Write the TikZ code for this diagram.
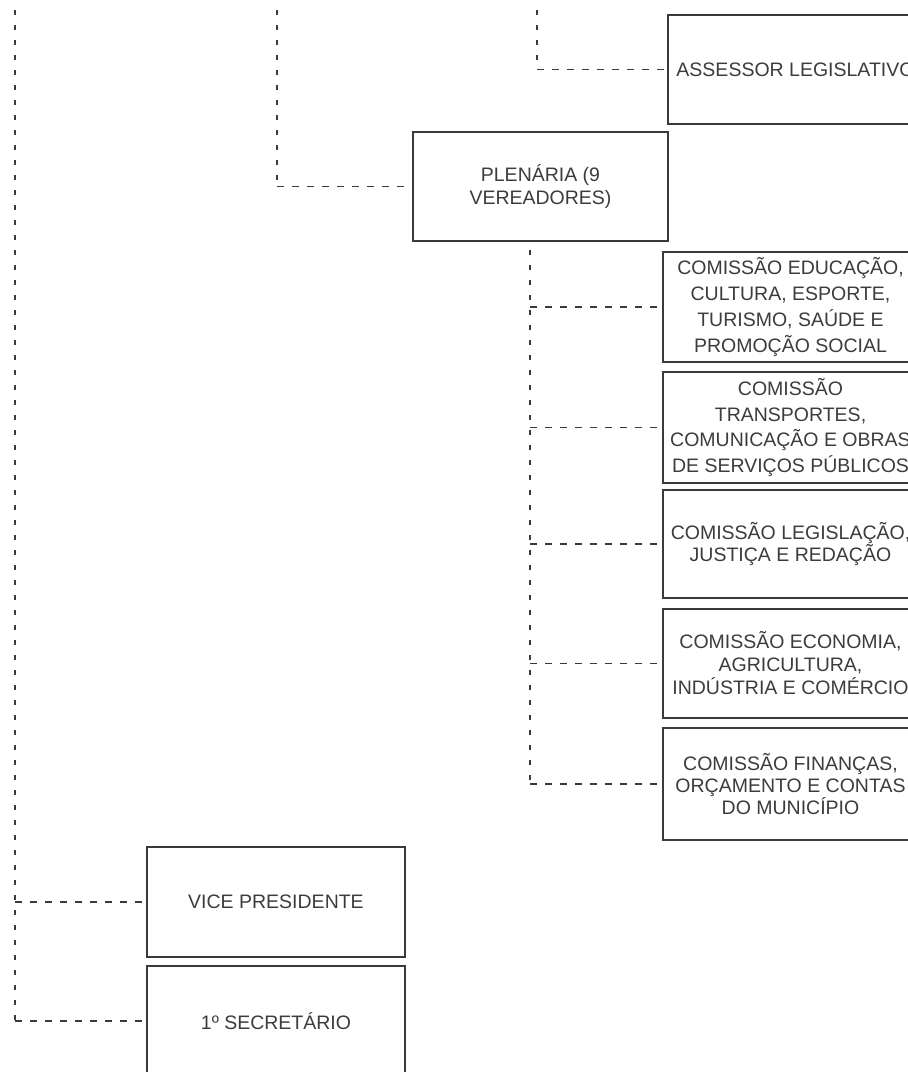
\documentclass[tikz,border=0pt]{standalone}
\usepackage{fontspec}
\setmainfont{Liberation Sans}
\definecolor{linec}{HTML}{3A3A3A}
\definecolor{txtc}{HTML}{3C3C3C}
\tikzset{
  orgbox/.style={draw=linec, line width=1.8pt, inner sep=0pt, align=center, text=txtc,
    font=\fontsize{19.5}{23}\selectfont},
  vdash/.style={draw=linec, line width=1.8pt, dash pattern=on 5pt off 10pt},
  hdash/.style={draw=linec, line width=1.8pt, dash pattern=on 7pt off 8pt},
}
\begin{document}
\begin{tikzpicture}[x=1pt,y=-1pt]
\useasboundingbox (0,0) rectangle (908,1072);
\clip (0,0) rectangle (908,1072);
\fill[white] (0,0) rectangle (908,1072);

% boxes
\node[orgbox, minimum width=255pt, minimum height=109pt] (assessor) at (795.5,69.5) {ASSESSOR LEGISLATIVO};
\node[orgbox, minimum width=255pt, minimum height=109pt] (plenaria) at (540.5,186.5) {PLEN\'ARIA (9\\VEREADORES)};
\node[orgbox, minimum width=255pt, minimum height=110pt, font=\fontsize{19.5}{26}\selectfont] (c1) at (790.5,307) {COMISS\~AO EDUCA\c{C}\~AO,\\CULTURA, ESPORTE,\\TURISMO, SA\'UDE E\\PROMO\c{C}\~AO SOCIAL};
\node[orgbox, minimum width=255pt, minimum height=111pt, font=\fontsize{19.5}{25.5}\selectfont] (c2) at (790.5,427.5) {COMISS\~AO\\TRANSPORTES,\\COMUNICA\c{C}\~AO E OBRAS\\DE SERVI\c{C}OS P\'UBLICOS};
\node[orgbox, minimum width=255pt, minimum height=108pt, font=\fontsize{19.5}{21.5}\selectfont] (c3) at (790.5,544) {COMISS\~AO LEGISLA\c{C}\~AO,\\JUSTI\c{C}A E REDA\c{C}\~AO};
\node[orgbox, minimum width=255pt, minimum height=109pt] (c4) at (790.5,663.5) {COMISS\~AO ECONOMIA,\\AGRICULTURA,\\IND\'USTRIA E COM\'ERCIO};
\node[orgbox, minimum width=255pt, minimum height=112pt, font=\fontsize{19.5}{22}\selectfont] (c5) at (790.5,784) {COMISS\~AO FINAN\c{C}AS,\\OR\c{C}AMENTO E CONTAS\\DO MUNIC\'IPIO};
\node[orgbox, minimum width=258pt, minimum height=110pt] (vice) at (276,902) {VICE PRESIDENTE};
\node[orgbox, minimum width=258pt, minimum height=110pt] (sec) at (276,1021) {1º SECRET\'ARIO};

% spine coordinates
\coordinate (top1) at (15,10);
\coordinate (top2) at (277,10);
\coordinate (top3) at (537,10);
\coordinate (spine4) at (530,0);

% left spine to vice / secretario
\draw[vdash] (top1) -- (top1 |- sec.west);
\draw[hdash] (top1 |- vice.west) -- (vice.west);
\draw[hdash] (top1 |- sec.west) -- (sec.west);

% spine to plenaria
\draw[vdash] (top2) -- (top2 |- plenaria.west);
\draw[hdash] (top2 |- plenaria.west) -- (plenaria.west);

% spine to assessor
\draw[vdash] (top3) -- (top3 |- assessor.west);
\draw[hdash] (top3 |- assessor.west) -- (assessor.west);

% plenaria to commissions
\draw[vdash] (spine4 |- plenaria.south) ++(0,8) -- (spine4 |- c5.west);
\foreach \c in {c1,c2,c3,c4,c5}{
  \draw[hdash] (spine4 |- \c.west) -- (\c.west);
}
\end{tikzpicture}
\end{document}
